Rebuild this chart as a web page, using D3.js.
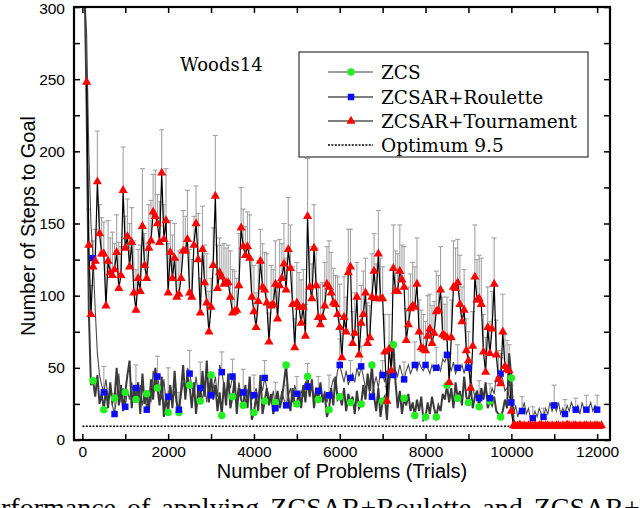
<!DOCTYPE html>
<html lang="en">
<head>
<meta charset="UTF-8">
<title>Woods14 - Number of Steps to Goal</title>
<script src="https://d3js.org/d3.v7.min.js"></script>
<style>
  body { margin: 0; background: #fff; }
  svg { display: block; }
  .tick line { stroke: #000; stroke-width: 1.5; }
  .tick text { font-family: "Liberation Sans", Arial, sans-serif; font-size: 15.5px; fill: #000; }
  .domain { display: none; }
  .title { font-family: "Liberation Sans", Arial, sans-serif; font-size: 20px; fill: #000; }
  .serif { font-family: "DejaVu Serif", serif; fill: #000; }
</style>
</head>
<body>
<svg width="640" height="508"></svg>
<script>
// trials are sampled every 50 problems
const step = 50;
const zcsStart = 50;     // ZCS and Roulette: 50 .. 12000
const tourStart = 100;   // Tournament: 100 .. 10000
const tailStart = 10050; // Tournament after switch: 10050 .. 12100

const tourVals = [
  248, 135, 87, 120, 124, 179, 143, 129, 129, 93,
  124, 116, 114, 118, 130, 105, 114, 173, 133, 141,
  120, 137, 102, 90, 112, 103, 148, 121, 112, 133,
  138, 158, 155, 150, 137, 185, 139, 152, 102, 130,
  112, 126, 99, 101, 112, 131, 131, 139, 102, 99,
  135, 150, 125, 88, 132, 109, 95, 75, 92, 121,
  169, 105, 116, 113, 108, 109, 109, 99, 88, 89,
  90, 107, 147, 134, 128, 134, 126, 99, 89, 78,
  96, 124, 106, 104, 95, 68, 93, 94, 108, 84,
  107, 112, 122, 104, 132, 119, 94, 64, 95, 92,
  81, 92, 72, 155, 106, 98, 133, 107, 85, 80,
  85, 93, 108, 106, 102, 95, 94, 87, 78, 57,
  85, 75, 116, 120, 67, 74, 99, 59, 81, 87,
  102, 67, 71, 99, 117, 98, 129, 98, 98, 61,
  27, 63, 48, 119, 103, 103, 117, 111, 106, 69,
  80, 91, 93, 92, 108, 75, 64, 63, 62, 72,
  77, 67, 74, 89, 90, 104, 73, 72, 71, 40,
  71, 106, 105, 109, 94, 82, 90, 62, 55, 36,
  65, 113, 97, 98, 94, 61, 47, 78, 60, 77,
  108, 59, 42, 39, 75, 51, 49, 48, 20
];
const tourErr = [
  0, 25, 20, 18, 22, 35, 20, 25, 22, 30,
  28, 24, 30, 18, 26, 32, 20, 30, 22, 26,
  30, 24, 36, 28, 20, 32, 40, 22, 24, 30,
  28, 26, 32, 20, 28, 30, 24, 36, 34, 22,
  30, 24, 26, 30, 20, 28, 24, 34, 30, 26,
  20, 26, 32, 24, 30, 26, 34, 28, 20, 26,
  42, 30, 24, 22, 28, 24, 26, 32, 30, 28,
  22, 36, 28, 26, 20, 24, 30, 26, 32, 24,
  28, 22, 30, 26, 34, 20, 28, 24, 30, 26,
  32, 24, 28, 22, 36, 30, 26, 20, 28, 24,
  30, 26, 22, 40, 28, 24, 30, 26, 22, 28,
  24, 30, 26, 32, 28, 24, 20, 26, 30, 22,
  28, 24, 30, 26, 22, 28, 24, 20, 26, 30,
  24, 28, 22, 30, 26, 24, 30, 28, 22, 26,
  10, 24, 20, 30, 28, 26, 32, 24, 28, 22,
  26, 24, 30, 28, 32, 22, 26, 24, 20, 28,
  24, 26, 22, 28, 24, 30, 26, 22, 28, 20,
  26, 32, 28, 30, 34, 24, 28, 22, 20, 18,
  24, 36, 28, 30, 32, 26, 24, 28, 22, 26,
  32, 24, 20, 18, 26, 22, 20, 18, 10
];
const tourTail = [
  10, 9.5, 10, 10.5, 9.5, 10, 9.5, 10, 10, 9.5,
  10, 9.5, 10, 10.5, 9.5, 10, 10, 9.5, 10, 9.5,
  10, 10, 9.5, 10, 9.5, 10.5, 10, 9.5, 10, 10,
  9.5, 10, 9.5, 10, 10, 9.5, 10, 9.5, 10, 10,
  9.5, 10
];
const zcsVals = [
  320, 230, 90, 38, 41, 30, 45, 25, 32, 21,
  35, 22, 40, 26, 29, 50, 24, 38, 20, 33,
  45, 55, 22, 36, 28, 40, 18, 46, 25, 32,
  20, 42, 28, 50, 36, 24, 44, 16, 30, 19,
  38, 22, 48, 26, 19, 34, 52, 28, 44, 38,
  22, 40, 18, 35, 27, 48, 30, 55, 26, 45,
  28, 38, 20, 33, 17, 40, 24, 46, 22, 30,
  42, 18, 36, 28, 24, 38, 22, 44, 14, 19,
  30, 20, 45, 18, 27, 36, 24, 32, 18, 26,
  34, 22, 28, 40, 52, 30, 20, 36, 24, 25,
  34, 22, 38, 26, 44, 30, 42, 22, 36, 28,
  40, 26, 32, 16, 21, 36, 24, 44, 28, 30,
  24, 36, 20, 32, 26, 30, 18, 34, 22, 25,
  38, 28, 46, 34, 52, 30, 20, 36, 16, 27,
  30, 14, 40, 52, 66, 40, 22, 34, 18, 29,
  24, 32, 20, 26, 17, 28, 20, 30, 14, 16,
  26, 18, 30, 22, 16, 24, 20, 32, 28, 38,
  26, 36, 22, 40, 29, 34, 24, 44, 30, 26,
  38, 22, 30, 34, 23, 36, 28, 40, 22, 27,
  24, 30, 20, 18, 16, 20, 28, 22, 60, 43,
  14, 11, 10, 10.5, 10, 10, 9.5, 10.5, 10, 10,
  10.5, 10, 9.5, 10, 10, 10, 10.5, 10, 9.5, 10,
  10, 10.5, 10, 10, 10, 9.5, 10, 10.5, 10, 10,
  10, 10, 10.5, 9.5, 10, 10, 10, 10.5, 10, 10
];
const roulVals = [
  310, 280, 200, 150, 126, 90, 60, 45, 38, 33,
  42, 28, 36, 24, 18, 30, 46, 26, 36, 23,
  34, 28, 40, 30, 36, 28, 38, 24, 32, 21,
  34, 26, 48, 38, 44, 36, 28, 42, 26, 30,
  38, 26, 34, 24, 21, 30, 40, 34, 50, 46,
  38, 30, 44, 32, 36, 28, 38, 26, 40, 31,
  36, 44, 30, 52, 47, 38, 30, 42, 36, 44,
  36, 28, 40, 30, 33, 26, 34, 38, 28, 31,
  36, 28, 40, 34, 43, 36, 30, 26, 34, 22,
  30, 26, 34, 28, 24, 30, 36, 26, 38, 32,
  28, 34, 30, 40, 37, 30, 38, 28, 36, 34,
  38, 28, 34, 26, 31, 36, 42, 38, 48, 52,
  46, 40, 48, 38, 43, 46, 40, 50, 44, 51,
  44, 36, 40, 32, 30, 38, 44, 36, 48, 45,
  40, 48, 42, 50, 45, 48, 44, 52, 46, 42,
  48, 52, 46, 50, 52, 48, 54, 50, 48, 52,
  50, 46, 52, 48, 50, 52, 48, 56, 54, 59,
  52, 48, 54, 46, 50, 48, 52, 46, 54, 50,
  42, 36, 30, 34, 29, 34, 28, 36, 30, 29,
  36, 32, 44, 40, 46, 42, 34, 36, 30, 26,
  18, 24, 16, 22, 20, 26, 18, 22, 14, 15,
  20, 16, 22, 18, 16, 22, 18, 26, 20, 24,
  20, 26, 18, 22, 18, 24, 20, 26, 22, 21,
  24, 18, 26, 20, 21, 22, 26, 20, 24, 21
];
// error bars of the Roulette run, one at every marked point (every 250 trials)
const roulErr = [
  0, 18, 14, 12, 16, 10, 14, 20, 12, 16,
  18, 14, 14, 12, 16, 14, 12, 18, 14, 12,
  16, 10, 14, 18, 12, 14, 12, 10, 14, 12,
  16, 12, 14, 12, 16, 14, 12, 10, 14, 12,
  10, 8, 6, 14, 10, 8, 10, 10
];
const optimum = 9.5;
const optimumRange = [0, 12000];

const xTicks = [0, 1000, 2000, 3000, 4000, 5000, 6000, 7000, 8000, 9000, 10000, 11000, 12000];
const xLabels = [0, 2000, 4000, 6000, 8000, 10000, 12000];
const yTicks = [0, 25, 50, 75, 100, 125, 150, 175, 200, 225, 250, 275, 300];
const yLabels = [0, 50, 100, 150, 200, 250, 300];

const legendNames = ["ZCS", "ZCSAR+Roulette", "ZCSAR+Tournament", "Optimum 9.5"];

const pLeft = 74, pRight = 610, pTop = 7, pBottom = 440;
const svg = d3.select("svg");

const x = d3.scaleLinear().domain([-195, 12300]).range([pLeft, pRight]);
const y = d3.scaleLinear().domain([0, 300]).range([pBottom, pTop]);

svg.append("clipPath").attr("id", "plotclip")
  .append("rect")
  .attr("x", pLeft).attr("y", pTop)
  .attr("width", pRight - pLeft).attr("height", pBottom - pTop);

const plot = svg.append("g").attr("clip-path", "url(#plotclip)");

const tour = tourVals.map((v, i) => ({ t: tourStart + i * step, v: v, e: tourErr[i] }))
  .concat(tourTail.map((v, i) => ({ t: tailStart + i * step, v: v, e: 0 })));
const zcs = zcsVals.map((v, i) => ({ t: zcsStart + i * step, v: v }));
const roul = roulVals.map((v, i) => ({ t: zcsStart + i * step, v: v }));
// Origin draws a symbol on every fifth point of these two runs
const zcsMarks = zcs.filter((d, i) => i % 5 === 4);
const roulMarks = roul.filter((d, i) => i % 5 === 4).map((d, i) => ({ t: d.t, v: d.v, e: roulErr[i] }));

const line = d3.line().x(d => x(d.t)).y(d => y(d.v));

function errorBars(data) {
  const g = plot.append("g").attr("stroke", "#a3a3a3").attr("stroke-width", 1.1);
  const bars = data.filter(d => d.e > 0);
  g.selectAll(".eb").data(bars).enter().append("line")
    .attr("x1", d => x(d.t)).attr("x2", d => x(d.t))
    .attr("y1", d => y(d.v)).attr("y2", d => y(d.v + d.e));
  g.selectAll(".cap").data(bars).enter().append("line")
    .attr("x1", d => x(d.t) - 2.5).attr("x2", d => x(d.t) + 2.5)
    .attr("y1", d => y(d.v + d.e)).attr("y2", d => y(d.v + d.e));
}

errorBars(tour);
errorBars(roulMarks);

plot.append("path").datum(roul)
  .attr("fill", "none").attr("stroke", "#4a4a4a").attr("stroke-width", 1.1)
  .attr("d", line);
plot.append("path").datum(zcs)
  .attr("fill", "none").attr("stroke", "#3a3a3a").attr("stroke-width", 2)
  .attr("d", line);
plot.append("path").datum(tour)
  .attr("fill", "none").attr("stroke", "#000").attr("stroke-width", 1.2)
  .attr("d", line);

plot.append("line")
  .attr("x1", x(optimumRange[0])).attr("x2", x(optimumRange[1]))
  .attr("y1", y(optimum)).attr("y2", y(optimum))
  .attr("stroke", "#000").attr("stroke-width", 1.6)
  .attr("stroke-dasharray", "2,1.4");

const tri = d3.symbol().type(d3.symbolTriangle).size(36);
const sq = d3.symbol().type(d3.symbolSquare).size(42);
const circ = d3.symbol().type(d3.symbolCircle).size(44);

plot.selectAll(".zm").data(zcsMarks).enter().append("path")
  .attr("d", circ).attr("fill", "#22ee22")
  .attr("transform", d => `translate(${x(d.t)},${y(d.v)})`);
plot.selectAll(".rm").data(roulMarks).enter().append("path")
  .attr("d", sq).attr("fill", "#0a0aff")
  .attr("transform", d => `translate(${x(d.t)},${y(d.v)})`);
plot.selectAll(".tm").data(tour).enter().append("path")
  .attr("d", tri).attr("fill", "#ff0000")
  .attr("transform", d => `translate(${x(d.t)},${y(d.v)})`);

// axes: inward ticks on all four sides, labels on bottom and left
svg.append("g").attr("transform", `translate(0,${pBottom})`)
  .call(d3.axisBottom(x).tickValues(xTicks).tickSize(-6).tickPadding(6)
    .tickFormat(d => xLabels.includes(d) ? d : ""));
svg.append("g").attr("transform", `translate(0,${pTop})`)
  .call(d3.axisTop(x).tickValues(xTicks).tickSize(-6).tickFormat(""));
const yAxis = svg.append("g").attr("transform", `translate(${pLeft},0)`)
  .call(d3.axisLeft(y).tickValues(yTicks).tickSize(-6).tickPadding(9)
    .tickFormat(d => yLabels.includes(d) ? d : ""));
// keep the top label inside the page
yAxis.selectAll(".tick text").filter(d => d === 300).attr("dy", "0.45em");
svg.append("g").attr("transform", `translate(${pRight},0)`)
  .call(d3.axisRight(y).tickValues(yTicks).tickSize(-6).tickFormat(""));

svg.append("rect")
  .attr("x", pLeft).attr("y", pTop)
  .attr("width", pRight - pLeft).attr("height", pBottom - pTop)
  .attr("fill", "none").attr("stroke", "#000").attr("stroke-width", 2.2);

svg.append("text").attr("class", "title")
  .attr("x", (pLeft + pRight) / 2).attr("y", 478)
  .attr("text-anchor", "middle")
  .text("Number of Problems (Trials)");
svg.append("text").attr("class", "title")
  .attr("transform", "translate(35,226) rotate(-90)")
  .attr("text-anchor", "middle")
  .text("Number of Steps to Goal");

svg.append("text").attr("class", "serif")
  .attr("x", 180).attr("y", 71)
  .style("font-size", "18px")
  .text("Woods14");

// legend
const lg = svg.append("g");
lg.append("rect")
  .attr("x", 299).attr("y", 52).attr("width", 289).attr("height", 105)
  .attr("fill", "#fff").attr("stroke", "#333").attr("stroke-width", 1.2);
const rowY = [72, 97, 121, 145];
legendNames.forEach((name, i) => {
  const yy = rowY[i];
  const l = lg.append("line")
    .attr("x1", 328).attr("x2", 373).attr("y1", yy).attr("y2", yy)
    .attr("stroke", i === 0 ? "#3a3a3a" : "#000")
    .attr("stroke-width", i === 3 ? 1.6 : 1.1);
  if (i === 3) l.attr("stroke-dasharray", "2,1.4");
  const sym = [circ, sq, tri][i];
  const col = ["#22ee22", "#0a0aff", "#ff0000"][i];
  if (sym) {
    lg.append("path").attr("d", sym).attr("fill", col)
      .attr("transform", `translate(351,${yy})`);
  }
  lg.append("text").attr("class", "serif")
    .attr("x", 381).attr("y", yy + 6.5)
    .style("font-size", "18.5px")
    .text(name);
});

// caption of the figure, cut off by the bottom edge as in the source page
const cap = svg.append("text")
  .style("font-family", "'Liberation Serif', serif").style("font-size", "28px")
  .style("word-spacing", "4px")
  .attr("y", 517);
const pre = cap.text("Pe").node().getComputedTextLength();
cap.attr("x", -pre + 1)
  .text("Performance of applying ZCSAR+Roulette and ZCSAR+Tournament");
</script>
</body>
</html>
